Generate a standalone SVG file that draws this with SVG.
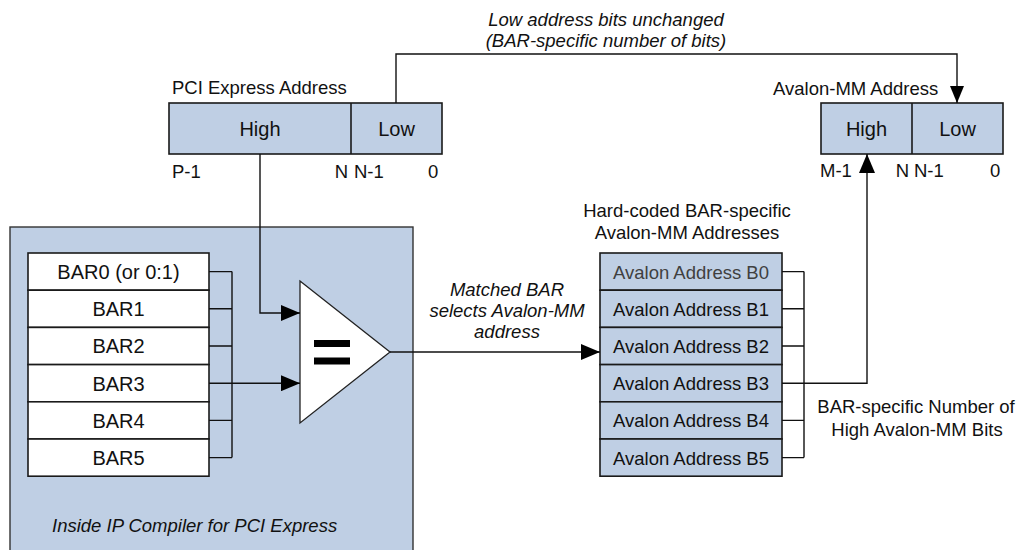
<svg xmlns="http://www.w3.org/2000/svg" width="1017" height="550" viewBox="0 0 1017 550">
  <style>
    text { font-family: "Liberation Sans", Arial, Helvetica, sans-serif; fill: #111; }
    .t18 { font-size: 18.5px; }
    .t20 { font-size: 20px; }
    .it { font-style: italic; }
    .mid { text-anchor: middle; }
    .end { text-anchor: end; }
    .blue { fill: #bfcfe4; stroke: #1a1a1a; stroke-width: 1.6; }
    .white { fill: #ffffff; stroke: #1a1a1a; stroke-width: 1.6; }
    .wire { fill: none; stroke: #111; stroke-width: 1.4; }
    .gray { fill: #404040; }
  </style>
  <defs>
    <marker id="arr" viewBox="0 0 19 16" refX="19" refY="8" markerWidth="19" markerHeight="16" markerUnits="userSpaceOnUse" orient="auto">
      <path d="M0,0 L19,8 L0,16 z" fill="#000"/>
    </marker>
    <marker id="arrS" viewBox="0 0 17 14" refX="17" refY="7" markerWidth="17" markerHeight="14" markerUnits="userSpaceOnUse" orient="auto">
      <path d="M0,0 L17,7 L0,14 z" fill="#000"/>
    </marker>
  </defs>

  <!-- IP container -->
  <g id="ip-container">
    <rect x="10" y="227" width="403" height="340" fill="#bfcfe4" stroke="#333" stroke-width="1.4"/>
    <text class="t18 it" x="52" y="532">Inside IP Compiler for PCI Express</text>
  </g>

  <!-- PCI Express Address -->
  <g id="pci-address">
    <text class="t18" x="172" y="94">PCI Express Address</text>
    <rect class="blue" x="169" y="103" width="273" height="51"/>
    <line x1="351" y1="103" x2="351" y2="154" stroke="#1a1a1a" stroke-width="1.6"/>
    <text class="t20 mid" x="260" y="135.5">High</text>
    <text class="t20 mid" x="396.5" y="135.5">Low</text>
    <text class="t18" x="172" y="178">P-1</text>
    <text class="t18 end" x="348" y="178">N</text>
    <text class="t18" x="354" y="178">N-1</text>
    <text class="t18" x="428" y="178">0</text>
  </g>

  <!-- Avalon-MM Address -->
  <g id="avalon-address">
    <text class="t18" x="773" y="95">Avalon-MM Address</text>
    <rect class="blue" x="821" y="103" width="182" height="51"/>
    <line x1="912" y1="103" x2="912" y2="154" stroke="#1a1a1a" stroke-width="1.6"/>
    <text class="t20 mid" x="866.5" y="135.5">High</text>
    <text class="t20 mid" x="957.5" y="135.5">Low</text>
    <text class="t18" x="820" y="177">M-1</text>
    <text class="t18 end" x="909" y="177">N</text>
    <text class="t18" x="914" y="177">N-1</text>
    <text class="t18" x="990" y="177">0</text>
  </g>

  <!-- BAR table -->
  <g id="bar-table">
    <rect class="white" x="28" y="253" width="181" height="37.2"/>
    <rect class="white" x="28" y="290.2" width="181" height="37.2"/>
    <rect class="white" x="28" y="327.4" width="181" height="37.2"/>
    <rect class="white" x="28" y="364.6" width="181" height="37.2"/>
    <rect class="white" x="28" y="401.8" width="181" height="37.2"/>
    <rect class="white" x="28" y="439" width="181" height="37.2"/>
    <text class="t20 mid" x="118.5" y="279">BAR0 (or 0:1)</text>
    <text class="t20 mid" x="118.5" y="316">BAR1</text>
    <text class="t20 mid" x="118.5" y="353">BAR2</text>
    <text class="t20 mid" x="118.5" y="390.5">BAR3</text>
    <text class="t20 mid" x="118.5" y="427.5">BAR4</text>
    <text class="t20 mid" x="118.5" y="465">BAR5</text>
  </g>

  <!-- Comparator -->
  <g id="comparator">
    <polygon points="300,281 390,352 300,423" fill="#fff" stroke="#222" stroke-width="1.3"/>
    <rect x="314" y="340" width="36" height="7" fill="#000"/>
    <rect x="314" y="357.5" width="36" height="7" fill="#000"/>
  </g>

  <!-- Avalon table -->
  <g id="avalon-table">
    <text class="t18 mid" x="687" y="217">Hard-coded BAR-specific</text>
    <text class="t18 mid" x="687" y="239">Avalon-MM Addresses</text>
    <rect class="blue" x="600" y="253" width="182" height="37.2"/>
    <rect class="blue" x="600" y="290.2" width="182" height="37.2"/>
    <rect class="blue" x="600" y="327.4" width="182" height="37.2"/>
    <rect class="blue" x="600" y="364.6" width="182" height="37.2"/>
    <rect class="blue" x="600" y="401.8" width="182" height="37.2"/>
    <rect class="blue" x="600" y="439" width="182" height="37.2"/>
    <text class="t18 mid gray" x="691" y="278.5">Avalon Address B0</text>
    <text class="t18 mid" x="691" y="315.5">Avalon Address B1</text>
    <text class="t18 mid" x="691" y="352.5">Avalon Address B2</text>
    <text class="t18 mid" x="691" y="390">Avalon Address B3</text>
    <text class="t18 mid" x="691" y="427">Avalon Address B4</text>
    <text class="t18 mid" x="691" y="464.5">Avalon Address B5</text>
  </g>

  <!-- Labels -->
  <g id="labels">
    <text class="t18 it mid" x="606" y="26">Low address bits unchanged</text>
    <text class="t18 it mid" x="606" y="47">(BAR-specific number of bits)</text>
    <text class="t18 it mid" x="507" y="296">Matched BAR</text>
    <text class="t18 it mid" x="507" y="317">selects Avalon-MM</text>
    <text class="t18 it mid" x="507" y="338">address</text>
    <text class="t18 mid" x="916" y="413">BAR-specific Number of</text>
    <text class="t18 mid" x="917" y="436">High Avalon-MM Bits</text>
  </g>

  <!-- Connectors -->
  <g id="connectors">
    <polyline class="wire" points="396,103 396,54 957,54 957,103" marker-end="url(#arrS)"/>
    <polyline class="wire" points="260,154 260,313 300,313" marker-end="url(#arr)"/>
    <path class="wire" d="M209,271.6 H232 M209,308.8 H232 M209,346 H232 M209,420.4 H232 M209,457.6 H232 M232,271.6 V457.6"/>
    <polyline class="wire" points="209,383.2 300,383.2" marker-end="url(#arr)"/>
    <polyline class="wire" points="390,352 600,352" marker-end="url(#arr)"/>
    <path class="wire" d="M782,271.6 H804 M782,308.8 H804 M782,346 H804 M782,420.4 H804 M782,457.6 H804 M804,271.6 V457.6"/>
    <polyline class="wire" points="782,383.2 867,383.2 867,154" marker-end="url(#arr)"/>
  </g>
</svg>
